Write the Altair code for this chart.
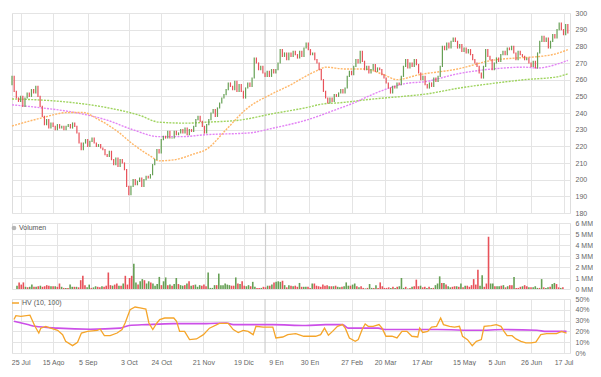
import altair as alt
import pandas as pd

# ---------------- data ----------------
first_open = 257
closes = [
    262, 253, 249, 247, 250, 244, 249, 252, 250, 254,
    252, 256, 250, 244, 238, 233, 236, 231, 234, 232,
    230, 233, 231, 232, 230, 232, 233, 231, 234, 232,
    228, 222, 218, 222, 224, 220, 223, 225, 222, 220,
    221, 219, 218, 215, 214, 217, 212, 209, 213, 208,
    212, 210, 206, 196, 191, 196, 200, 197, 199, 201,
    196, 200, 202, 201, 203, 209, 212, 218, 216, 224,
    226, 225, 229, 225, 225, 229, 227, 228, 230, 228,
    231, 227, 230, 229, 232, 236, 238, 235, 232, 228,
    233, 236, 240, 242, 238, 243, 246, 249, 251, 254,
    258, 256, 254, 259, 253, 257, 253, 249, 255, 258,
    256, 261, 273, 270, 266, 268, 264, 262, 265, 262,
    266, 264, 266, 270, 278, 274, 276, 272, 276, 274,
    277, 275, 273, 277, 274, 279, 282, 278, 275, 276,
    272, 270, 266, 260, 253, 249, 246, 249, 247, 251,
    250, 252, 254, 252, 255, 262, 265, 263, 268, 272,
    270, 277, 271, 266, 268, 264, 266, 269, 265, 267,
    266, 263, 261, 258, 255, 252, 256, 255, 258, 257,
    262, 268, 272, 267, 270, 268, 272, 269, 264, 260,
    262, 257, 255, 258, 256, 261, 259, 262, 268, 280,
    278, 282, 279, 283, 285, 283, 279, 281, 277, 279,
    276, 278, 275, 272, 270, 268, 264, 261, 268, 278,
    274, 272, 266, 270, 273, 271, 275, 277, 275, 279,
    278, 280, 276, 272, 277, 275, 274, 272, 273, 270,
    268, 271, 267, 276, 283, 286, 283, 285, 279, 283,
    287, 285, 290, 294, 290, 287, 293, 288,
]

volume_mm = [
    0.3, 0.6, 0.4, 0.6, 0.2, 0.15, 0.2, 0.4, 0.2, 0.2,
    0.25, 0.3, 0.2, 0.25, 0.35, 0.3, 0.25, 0.25, 0.25, 0.2,
    0.5, 0.2, 0.1, 0.1, 0.1, 0.4, 0.2, 0.2, 0.2, 0.15,
    0.8, 1.2, 0.35, 0.15, 0.4, 0.1, 0.15, 0.25, 0.2, 0.15,
    0.25, 0.2, 0.3, 1.5, 0.35, 0.3, 0.4, 0.5, 0.3, 0.3,
    0.5, 1.2, 0.4, 1.0, 1.2, 2.3, 0.6, 0.4, 0.7, 0.9,
    0.8, 0.5, 0.7, 0.6, 0.5, 0.3, 0.45, 1.1, 0.35, 0.7,
    1.05, 0.35, 0.4, 0.3, 0.45, 1.0, 0.45, 0.35, 0.3, 0.35,
    0.5, 0.7, 0.3, 0.35, 0.4, 0.2, 0.35, 0.3, 0.4, 0.25,
    1.5, 0.1, 0.1, 0.35, 0.35, 1.4, 0.35, 0.35, 0.5, 0.4,
    0.35, 0.3, 0.3, 1.05, 0.5, 0.45, 0.7, 0.3, 0.25, 0.35,
    0.25, 0.65, 0.2, 0.1, 0.1, 0.1, 0.2, 0.15, 0.3, 0.3,
    0.4, 0.6, 0.65, 0.7, 0.65, 0.75, 0.35, 0.15, 0.35, 0.3,
    0.25, 0.3, 0.2, 0.55, 0.2, 0.2, 0.2, 0.2, 0.1, 0.5,
    0.5, 0.3, 0.25, 0.2, 0.4, 0.3, 0.35, 0.25, 0.25, 0.25,
    0.3, 0.2, 0.15, 0.2, 0.25, 0.6, 0.3, 0.3, 0.4, 0.5,
    0.25, 0.15, 0.25, 0.1, 0.05, 0.1, 0.45, 0.1, 0.1, 0.35,
    0.1, 0.6, 0.25, 0.1, 0.1, 0.15, 0.1, 0.2, 0.1, 0.2,
    0.25, 1.0, 0.1, 0.2, 0.05, 0.1, 0.2, 0.25, 0.85, 0.25,
    0.3, 0.15, 0.2, 0.1, 0.2, 0.1, 0.1, 0.35, 0.5, 1.15,
    0.55, 0.55, 0.4, 0.25, 0.15, 0.2, 0.25, 0.25, 0.2, 0.5,
    0.15, 0.3, 0.3, 0.2, 0.35, 0.9, 0.4, 1.75, 0.3, 1.25,
    0.2, 0.5, 4.75, 0.5, 0.5, 0.25, 0.25, 0.25, 0.3, 0.35,
    0.15, 0.25, 0.35, 0.35, 1.1, 0.1, 0.1, 0.2, 0.25, 0.35,
    0.25, 0.15, 0.15, 0.15, 0.25, 0.1, 0.1, 0.9, 0.15, 0.1,
    0.15, 0.2, 0.45, 0.55, 0.45, 0.15, 0.1, 0.15,
]

# moving averages (index of trading day, value)
ma_fast_idx = [0, 13, 26, 33, 39, 49, 56, 64, 68, 75, 84, 90, 99, 108, 121, 129, 133,
               142, 145, 154, 163, 172, 178, 188, 206, 222, 237, 244, 252, 257]
ma_fast_val = [232.2, 236.8, 240.3, 240.3, 236.8, 228.7, 221.2, 214.2, 211.3, 211.9,
               215.4, 218.3, 230.0, 242.0, 252.0, 257.0, 260.0, 266.0, 267.5, 266.4,
               266.4, 262.9, 260.0, 262.9, 266.4, 271.6, 273.3, 273.9, 275.7, 278.0]
ma_mid_idx = [0, 13, 29, 44, 56, 68, 78, 90, 110, 121, 136, 151, 157, 167, 174, 182,
              191, 206, 222, 237, 243, 252, 257]
ma_mid_val = [244.9, 243.2, 240.3, 235.7, 229.9, 225.8, 225.8, 227.0, 228.1, 231.0,
              235.7, 242.6, 245.5, 251.3, 254.8, 257.7, 258.8, 263.5, 266.4, 267.5,
              267.0, 269.3, 271.6]
ma_slow_idx = [0, 13, 29, 44, 59, 68, 81, 90, 105, 121, 136, 144, 151, 167, 182, 191,
               206, 222, 237, 252, 257]
ma_slow_val = [248.4, 247.8, 246.1, 243.2, 238.6, 234.5, 233.9, 234.5, 235.7, 239.7,
               243.2, 245.5, 246.1, 248.4, 250.1, 251.3, 254.8, 257.7, 260.0, 261.7,
               263.5]

# historical volatility HV (10, 100)
hv_idx = [0.9, 1.8, 4.1, 8.3, 9.2, 10.6, 12.4, 13.3, 15.6, 17.9, 21.1, 23.4, 24.8, 28.0,
          30.3, 32.1, 34.9, 39.4, 40.8, 42.7, 45.4, 48.6, 50.9, 52.3, 54.6, 56.9, 59.2,
          61.9, 63.3, 65.1, 67.0, 68.3, 70.6, 74.8, 76.1, 77.5, 79.8, 82.1, 85.3, 88.5,
          91.3, 95.9, 100.0, 102.3, 104.6, 106.9, 109.2, 111.5, 112.8, 116.1, 120.6,
          122.0, 125.2, 127.5, 131.2, 134.9, 140.4, 142.7, 144.5, 146.3, 148.2, 150.5,
          152.8, 154.1, 156.0, 158.7, 160.1, 161.9, 163.3, 164.7, 167.0, 169.7, 171.1,
          172.9, 175.7, 178.0, 180.3, 182.6, 184.9, 187.6, 188.5, 189.9, 192.2, 194.0,
          196.3, 198.2, 199.5, 202.3, 204.6, 206.9, 208.3, 210.6, 212.8, 214.7, 217.0,
          218.3, 221.6, 223.9, 226.1, 227.5, 228.9, 231.2, 233.0, 235.3, 237.6, 239.9,
          242.2, 244.5, 247.2, 251.8, 254.1, 256.4]
hv_val = [31, 34.6, 34, 35, 31, 24.7, 18.5, 23, 24.7, 23, 21, 17, 10.8, 6.8,
          10, 18.5, 20, 21, 22, 16, 16, 18.5, 21.7, 27.8, 40, 42.6, 41.7,
          40.7, 27.8, 21.7, 27.8, 31, 32.4, 32.4, 29.4, 20, 20, 12.4, 13, 17,
          23, 27.5, 27.5, 21.7, 19, 21, 20, 17, 24.7, 24, 24,
          13.9, 14.8, 17, 18, 15.5, 15.5, 17, 23, 16.4, 20, 24.7,
          26.3, 23, 13.9, 10.8, 12.4, 21.7, 26.9, 24.7, 24.7, 26.3, 23,
          15.5, 15.5, 13.9, 20, 20, 15.5, 14.8, 23, 19, 20, 24,
          24.7, 32.4, 26.3, 24.7, 24, 24.7, 15.5, 12.4, 6.8, 10.8, 12.4,
          24.7, 25.4, 26.3, 24.7, 20, 16, 16, 13, 10.8, 9.3, 9.3,
          10, 17, 18, 18, 20, 18.5]
hv_long_idx = [0.9, 7.3, 10.6, 21.1, 36.2, 50.0, 54.1, 62.4, 74.8, 89.9, 99.1, 102.3,
               120.6, 135.8, 145.0, 152.8, 155.5, 169.3, 172.5, 196.8, 215.1, 227.5,
               242.7, 247.2, 256.4]
hv_long_val = [29.4, 26.3, 24.7, 23, 22, 23, 25.4, 26.3, 27.2, 27.2, 27.8, 26.3,
               26.3, 25.4, 26.3, 26.3, 23, 23, 21.7, 21.7, 21, 21.7, 21, 20, 20]

x_tick_pos = [4, 19, 35, 54, 69, 88.5, 107, 122, 137.5, 157, 172.5, 189.5, 209, 224, 240, 255]
x_tick_labels = ["25 Jul", "15 Ago", "5 Sep", "3 Oct", "24 Oct", "21 Nov", "19 Dic", "9 En",
                 "30 En", "27 Feb", "20 Mar", "17 Abr", "15 May", "5 Jun", "26 Jun", "17 Jul"]
year_break = [117]
price_ticks = list(range(180, 301, 10))
vol_ticks = [0, 1, 2, 3, 4, 5, 6]
hv_ticks = [0, 10, 20, 30, 40, 50]

# ---------------- tables ----------------
opens = [first_open] + closes[:-1]
idx = list(range(len(closes)))
price_df = pd.DataFrame({
    "idx": idx,
    "open": opens,
    "close": closes,
    "lo": [min(o, c) for o, c in zip(opens, closes)],
    "hi": [max(o, c) for o, c in zip(opens, closes)],
    "dir": ["up" if c >= o else "down" for o, c in zip(opens, closes)],
})
vol_df = pd.DataFrame({"idx": idx, "vol": volume_mm, "dir": price_df["dir"]})
ma_fast = pd.DataFrame({"idx": ma_fast_idx, "val": ma_fast_val})
ma_mid = pd.DataFrame({"idx": ma_mid_idx, "val": ma_mid_val})
ma_slow = pd.DataFrame({"idx": ma_slow_idx, "val": ma_slow_val})
hv_df = pd.DataFrame({"idx": hv_idx, "val": hv_val})
hv_long_df = pd.DataFrame({"idx": hv_long_idx, "val": hv_long_val})
year_df = pd.DataFrame({"idx": year_break})

# ---------------- styling ----------------
FONT = "Liberation Sans"
GREEN = "#66a055"
RED = "#e8525a"
GRID = "#e4e4e4"
LABEL = "#666666"
W = 558
X_DOMAIN = [0, 258]

pos_str = "[" + ",".join(str(p) for p in x_tick_pos) + "]"
lab_str = "[" + ",".join("'%s'" % l for l in x_tick_labels) + "]"
x_label_expr = f"{lab_str}[indexof({pos_str}, datum.value)]"

x_scale = alt.Scale(domain=X_DOMAIN, nice=False, zero=False)


def x_axis(labels):
    if labels:
        return alt.Axis(values=x_tick_pos, grid=True, gridColor=GRID, ticks=False,
                        domain=False, title=None, labels=True, labelExpr=x_label_expr,
                        labelFontSize=7, labelColor=LABEL, labelFont=FONT,
                        labelPadding=5, labelOverlap=False, labelFlush=False)
    return alt.Axis(values=x_tick_pos, grid=True, gridColor=GRID, ticks=False,
                    domain=False, title=None, labels=False)


def y_axis(values, expr=None):
    kw = dict(values=values, orient="right", grid=True, gridColor=GRID, ticks=False,
              domain=False, title=None, labelFontSize=7, labelColor=LABEL,
              labelFont=FONT, labelPadding=5)
    if expr:
        kw["labelExpr"] = expr
    return alt.Axis(**kw)


dir_color = alt.Color("dir:N", scale=alt.Scale(domain=["up", "down"], range=[GREEN, RED]),
                      legend=None)

# ---------------- price panel ----------------
px = alt.X("idx:Q", scale=x_scale, axis=x_axis(False))
py_scale = alt.Scale(domain=[180, 300], nice=False, zero=False)
py_axis = y_axis(price_ticks)

year_price = alt.Chart(year_df).mark_rule(color="#cfcfcf", strokeWidth=1.2).encode(x=px)

bars = alt.Chart(price_df).mark_rule(strokeWidth=1.2, strokeCap="square").encode(
    x=px,
    y=alt.Y("lo:Q", scale=py_scale, axis=py_axis),
    y2="hi:Q",
    color=dir_color,
)


def ma_line(df, color):
    return alt.Chart(df).mark_line(color=color, strokeWidth=1.4, strokeDash=[2, 1.2],
                                   interpolate="monotone").encode(
        x=px, y=alt.Y("val:Q", scale=py_scale, axis=py_axis))


price = alt.layer(
    year_price,
    ma_line(ma_slow, "#9fd45f"),
    ma_line(ma_mid, "#e383f5"),
    ma_line(ma_fast, "#ffb769"),
    bars,
).properties(width=W, height=200)

# ---------------- volume panel ----------------
vy_scale = alt.Scale(domain=[0, 6], nice=False, zero=True)
vy_axis = y_axis(vol_ticks, "datum.value + ' MM'")
vol_bars = alt.Chart(vol_df).mark_bar(size=1.6).encode(
    x=px,
    y=alt.Y("vol:Q", scale=vy_scale, axis=vy_axis),
    color=dir_color,
)
year_vol = alt.Chart(year_df).mark_rule(color="#cfcfcf", strokeWidth=1.2).encode(x=px)
vol_label_df = pd.DataFrame({"label": ["Volumen"]})
vol_dot = alt.Chart(vol_label_df).mark_point(filled=True, color="#b5b5b5", size=22,
                                             opacity=1).encode(
    x=alt.value(2), y=alt.value(5))
vol_text = alt.Chart(vol_label_df).mark_text(align="left", baseline="middle", fontSize=7,
                                             font=FONT, color="#555555").encode(
    x=alt.value(7), y=alt.value(5), text="label:N")
volume = alt.layer(year_vol, vol_bars, vol_dot, vol_text).properties(width=W, height=66)

# ---------------- HV panel ----------------
hx = alt.X("idx:Q", scale=x_scale, axis=x_axis(True))
hy_scale = alt.Scale(domain=[0, 50], nice=False, zero=True)
hy_axis = y_axis(hv_ticks, "datum.value + '%'")
year_hv = alt.Chart(year_df).mark_rule(color="#cfcfcf", strokeWidth=1.2).encode(x=hx)
hv_long_line = alt.Chart(hv_long_df).mark_line(color="#cc4fe8", strokeWidth=1.6,
                                               interpolate="monotone").encode(
    x=hx, y=alt.Y("val:Q", scale=hy_scale, axis=hy_axis))
hv_line = alt.Chart(hv_df).mark_line(color="#f5a52a", strokeWidth=1.3).encode(
    x=hx, y=alt.Y("val:Q", scale=hy_scale, axis=hy_axis))
hv_label_df = pd.DataFrame({"label": ["HV (10, 100)"]})
hv_key = alt.Chart(hv_label_df).mark_rule(color="#f5a52a", strokeWidth=1.5).encode(
    x=alt.value(0), x2=alt.value(7), y=alt.value(4))
hv_text = alt.Chart(hv_label_df).mark_text(align="left", baseline="middle", fontSize=7,
                                           font=FONT, color="#555555").encode(
    x=alt.value(10), y=alt.value(4), text="label:N")
hv = alt.layer(year_hv, hv_long_line, hv_line, hv_key, hv_text).properties(width=W, height=54)

chart = alt.vconcat(price, volume, hv, spacing=10, bounds="flush").properties(
    padding={"left": 0, "top": 0, "right": 0, "bottom": 0}
).configure_view(stroke="#e2e2e2", strokeWidth=1).configure(background="white")

chart.save("out.html", embed_options={"renderer": "svg", "actions": False})
